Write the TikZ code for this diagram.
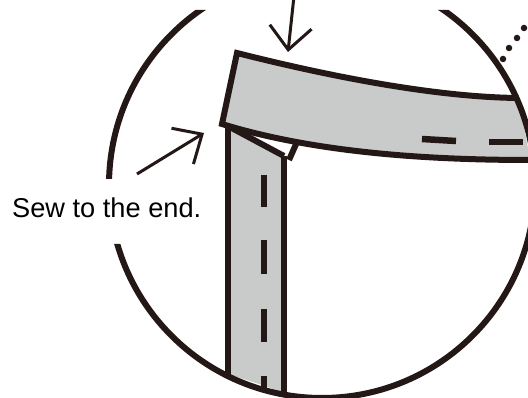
\documentclass[tikz,border=0pt]{standalone}
\usepackage{fontspec}
\setmainfont{Liberation Sans}
\usetikzlibrary{arrows.meta}
\definecolor{cloth}{HTML}{C9CACA}
\definecolor{ink}{HTML}{231815}

\begin{document}
\begin{tikzpicture}[x=1pt, y=-1pt, line join=miter,
    outline/.style={draw=ink, line width=6pt},
    stitch/.style={draw=ink, line width=6.5pt},
    pointer/.style={draw=ink, line width=3pt, -{Straight Barb[length=23pt, width=42pt]}},
    dot/.style={circle, fill=ink, inner sep=0pt, minimum size=6.5pt}]
    \useasboundingbox (0,0) rectangle (528,398);
    \clip (0,0) rectangle (528,398);

    % vertical strap
    \fill[cloth] (228,126) -- (284,156) -- (284,393) -- (262,385) -- (228,374) -- cycle;
    \draw[outline] (228,126) -- (228,375);
    \draw[outline] (284,156) -- (284,393);
    \draw[outline] (226,125) -- (284,156);
    \draw[outline] (297,142) -- (289,160);

    % horizontal band
    \fill[cloth] (237,53) .. controls (320,74) and (430,97) .. (518,98)
        .. controls (521,115) and (526,135) .. (530,160)
        .. controls (400,160) and (300,148) .. (222,124) -- cycle;
    \draw[outline] (518,98) .. controls (430,97) and (320,74) .. (237,53)
        -- (222,124) .. controls (300,148) and (400,160) .. (530,160);

    % stitches
    \foreach \y/\yy in {175/207, 240/274, 309/342, 376/389} {
        \draw[stitch] (264,\y) -- (264,\yy);
    }
    \draw[stitch] (422,139) -- (456,141);
    \draw[stitch] (489,142) -- (523,142);

    % magnifier circle
    \begin{scope}
        \clip (0,10) -- (528,10) -- (528,398) -- (0,398) -- (0,244) -- (180,244) -- (180,179) -- (0,179) -- cycle;
        \draw[outline] (322,185) circle[radius=213];
    \end{scope}

    % pointers
    \coordinate (topfrom) at (294,-4);
    \coordinate (topto) at (288,52);
    \coordinate (sidefrom) at (137,174);
    \coordinate (sideto) at (204,133);
    \draw[pointer] (topfrom) -- (topto);
    \draw[pointer] (sidefrom) -- (sideto);

    % dots
    \foreach \x/\y [count=\i] in {524/28, 517/38, 509/48, 503/59} {
        \node[dot] (dot\i) at (\x,\y) {};
    }

    \node[anchor=base west, inner sep=0pt, font=\fontsize{27.2pt}{30pt}\selectfont] (sew) at (12,218) {Sew to the end.};
\end{tikzpicture}
\end{document}
